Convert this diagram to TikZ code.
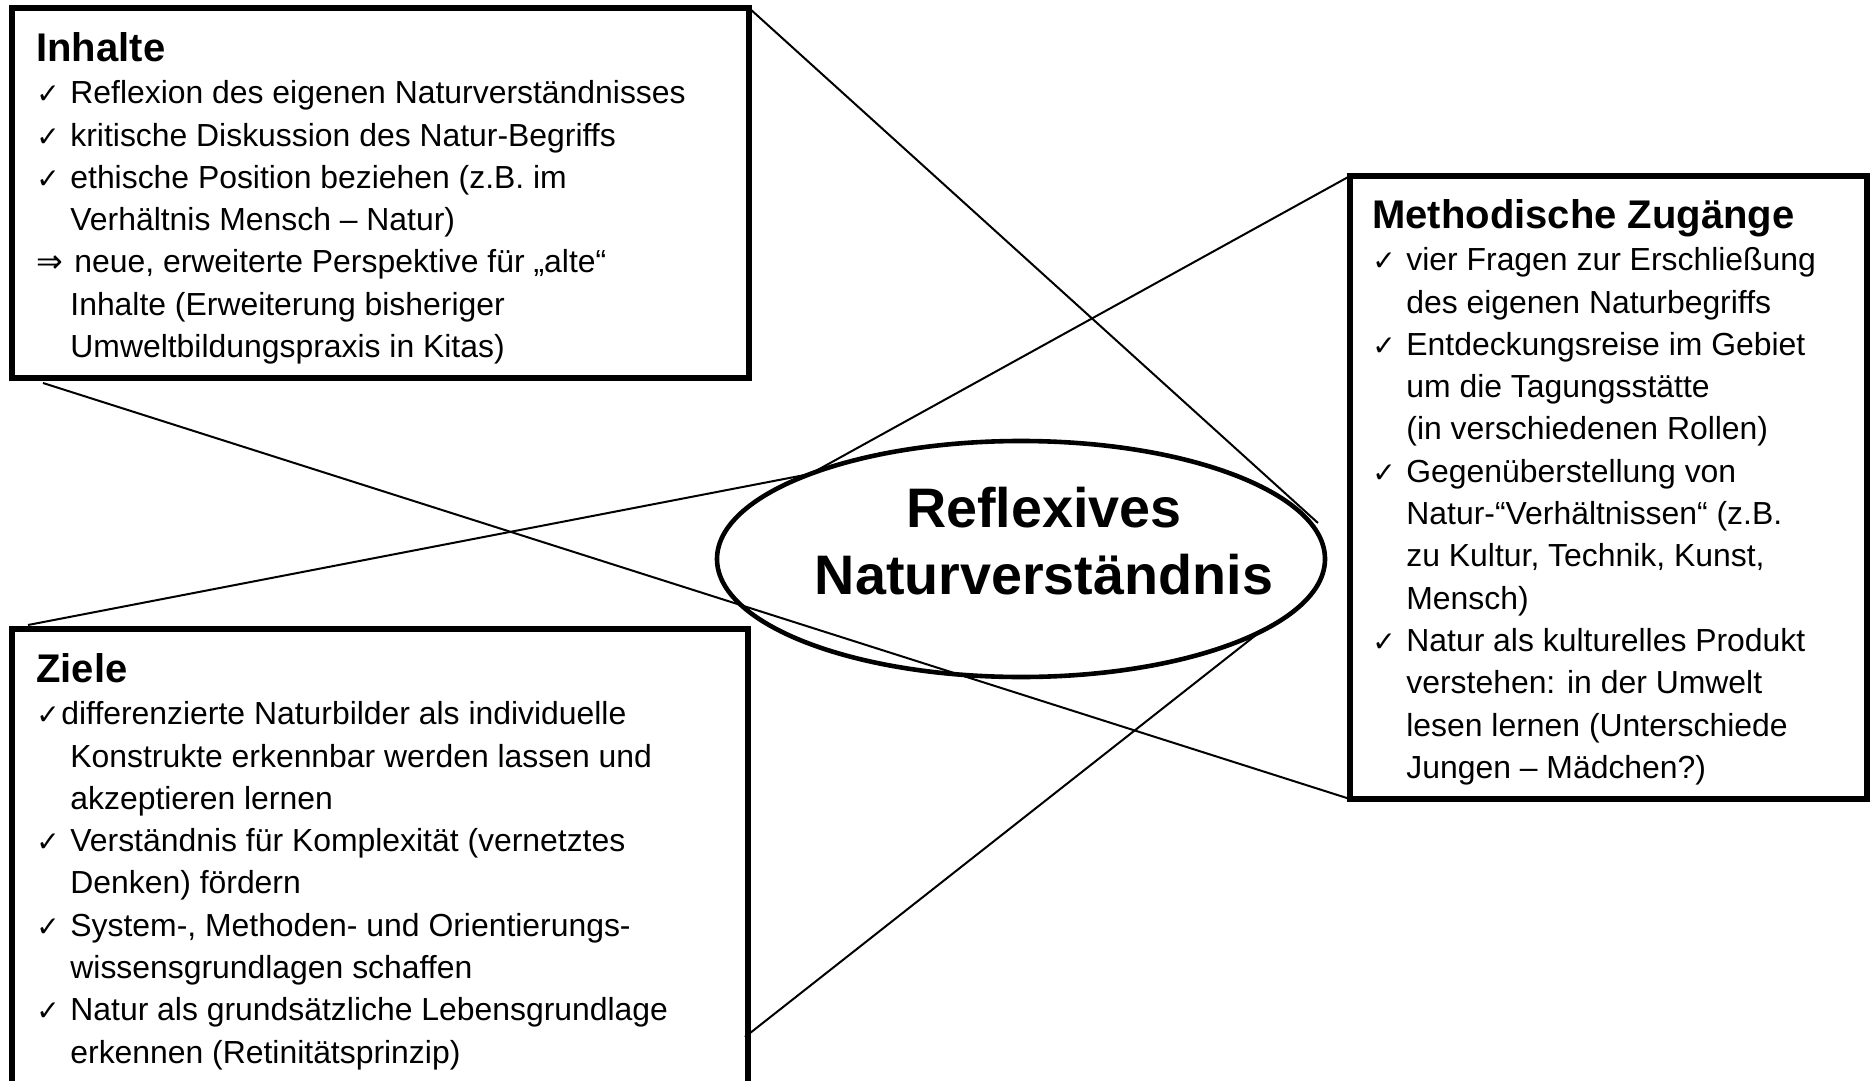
\documentclass[tikz,border=0pt]{standalone}
\usepackage{fontspec}
\setmainfont{Liberation Sans}
\newfontfamily\symfont{DejaVu Sans}
\usetikzlibrary{shapes.geometric}

\newcommand{\chk}[1][17pt]{\makebox[#1][l]{\fontsize{14}{16}\symfont ✓}}
\newcommand{\arr}{\makebox[19pt][l]{\symfont ⇒}}
\newcommand{\cont}{\hspace*{17pt}}
\newcommand{\head}[1]{{\fontsize{20}{24}\selectfont\bfseries #1}}

\begin{document}
\begin{tikzpicture}[x=0.5pt,y=-0.5pt,
  box/.style={draw, line width=3pt, inner sep=0pt, outer sep=0pt, anchor=north west},
  txt/.style={anchor=north west, inner sep=0pt, align=left, font=\fontsize{15.95}{21.15}\selectfont},
  link/.style={line width=1pt}]
\useasboundingbox (0,0) rectangle (1874,1081);
\clip (0,0) rectangle (1874,1081);

% boxes
\node[box, minimum width=368.5pt, minimum height=185pt] (inh) at (12,8) {};
\node[box, minimum width=368pt, minimum height=240pt] (zie) at (12,629) {};
\node[box, minimum width=258.5pt, minimum height=311.5pt] (met) at (1350,176) {};

% centre
\node[ellipse, draw, line width=2.3pt, inner sep=0pt, outer sep=0pt,
  minimum width=304pt, minimum height=118pt] (ell) at (1021,559) {};
\node[anchor=north, align=center, inner sep=0pt,
  font=\fontsize{27.85}{33.5}\selectfont\bfseries] (title) at (1044,483)
  {\rule{0pt}{22pt}Reflexives\\Naturverständnis};

% texts
\node[txt] (inhtxt) at (36,29) {\rule{0pt}{16pt}\head{Inhalte}\\
\chk Reflexion des eigenen Naturverständnisses\\
\chk kritische Diskussion des Natur-Begriffs\\
\chk ethische Position beziehen (z.B. im\\
\cont Verhältnis Mensch – Natur)\\
\arr neue, erweiterte Perspektive für „alte“\\
\cont Inhalte (Erweiterung bisheriger\\
\cont Umweltbildungspraxis in Kitas)};

\node[txt] (zietxt) at (36,650) {\rule{0pt}{16pt}\head{Ziele}\\
\chk[12.5pt]differenzierte Naturbilder als individuelle\\
\cont Konstrukte erkennbar werden lassen und\\
\cont akzeptieren lernen\\
\chk Verständnis für Komplexität (vernetztes\\
\cont Denken) fördern\\
\chk System-, Methoden- und Orientierungs-\\
\cont wissensgrundlagen schaffen\\
\chk Natur als grundsätzliche Lebensgrundlage\\
\cont erkennen (Retinitätsprinzip)};

\node[txt] (mettxt) at (1372,196) {\rule{0pt}{16pt}\head{Methodische Zugänge}\\
\chk vier Fragen zur Erschließung\\
\cont des eigenen Naturbegriffs\\
\chk Entdeckungsreise im Gebiet\\
\cont um die Tagungsstätte\\
\cont (in verschiedenen Rollen)\\
\chk Gegenüberstellung von\\
\cont Natur-“Verhältnissen“ (z.B.\\
\cont zu Kultur, Technik, Kunst,\\
\cont Mensch)\\
\chk Natur als kulturelles Produkt\\
\cont verstehen: in der Umwelt\\
\cont lesen lernen (Unterschiede\\
\cont Jungen – Mädchen?)};

% connectors
\coordinate (inhfoot) at (43,383);
\coordinate (ziecorner) at (28,625);
\coordinate (zieside) at (745,1037);
\coordinate (ellright) at (1318,523);
\draw[link] (inh.north east) -- (ellright);
\draw[link] (inhfoot) -- (met.south west);
\draw[link] (ziecorner) -- (ell.158);
\draw[link] (met.north west) -- (ell.158);
\draw[link] (zieside) -- (ell.-17);
\end{tikzpicture}
\end{document}
